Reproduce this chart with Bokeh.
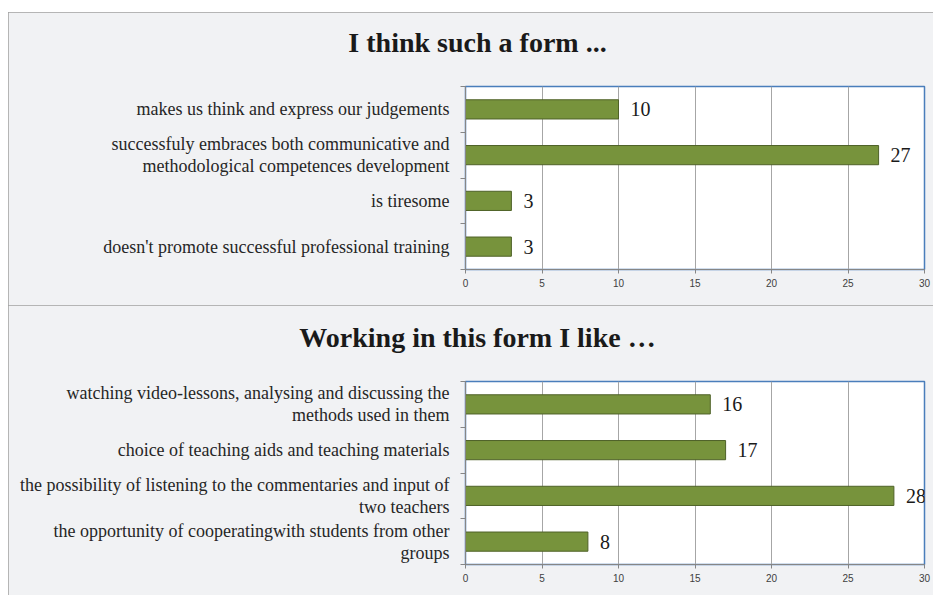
from bokeh.plotting import figure
from bokeh.models import FixedTicker, Label, Spacer, Range1d, ColumnDataSource
from bokeh.layouts import column, row
from bokeh.core.properties import value
from bokeh.embed import file_html
from bokeh.resources import INLINE

title1 = "I think such a form ..."
cats1 = ["makes us think and express our judgements",
         "successfuly embraces both communicative and\nmethodological competences development",
         "is tiresome",
         "doesn't promote successful professional training"]
vals1 = [10, 27, 3, 3]

title2 = "Working in this form I like \u2026"
cats2 = ["watching video-lessons, analysing and discussing the\nmethods used in them",
         "choice of teaching aids and teaching materials",
         "the possibility of listening to the commentaries and input of\ntwo teachers",
         "the opportunity of cooperatingwith students from other\ngroups"]
vals2 = [16, 17, 28, 8]

x_ticks = [0, 5, 10, 15, 20, 25, 30]
x_max = 30

SERIF = "Liberation Serif"
PANEL_BG = "#F1F2F4"


def make_panel(title, cats, vals, height, top, bottom):
    n = len(cats)
    pos = [n - i - 0.5 for i in range(n)]
    src = ColumnDataSource(dict(y=pos, v=vals, t=[str(v) for v in vals]))
    p = figure(width=925, height=height, output_backend="svg", toolbar_location=None,
               x_range=Range1d(0, x_max), y_range=Range1d(0, n),
               min_border_left=457, min_border_right=9,
               min_border_top=top, min_border_bottom=bottom)
    lab = Label(x=12, y=44, x_units="screen", y_units="screen", text=title,
                text_align="center", text_baseline="middle", text_font=SERIF,
                text_font_size="28px", text_font_style="bold", text_color="#1a1a1a")
    p.add_layout(lab, "above")
    p.background_fill_color = "white"
    p.border_fill_color = PANEL_BG
    p.outline_line_color = "#4A7EBB"
    p.outline_line_width = 1.5
    p.styles = {"outline": "1px solid #A0A0A0", "outline-offset": "-1px"}

    p.hbar(y="y", right="v", left=0, height=0.42, source=src,
           fill_color="#77933C", line_color="#4F6228", line_width=1)
    p.text(x="v", y="y", text="t", source=src, x_offset=12,
           text_align="left", text_baseline="middle",
           text_font=value(SERIF), text_font_size="20px", text_color="#1a1a1a")

    # x axis
    xa = p.xaxis[0]
    xa.ticker = FixedTicker(ticks=x_ticks)
    xa.axis_line_color = "#868686"
    xa.major_tick_line_color = "#868686"
    xa.major_tick_out = 4
    xa.major_tick_in = 0
    xa.minor_tick_line_color = None
    xa.major_label_text_font = "Liberation Sans"
    xa.major_label_text_font_size = "10px"
    xa.major_label_text_color = "#404040"
    xa.major_label_standoff = 5

    # y axis
    ya = p.yaxis[0]
    ya.ticker = FixedTicker(ticks=pos, minor_ticks=list(range(n + 1)))
    ya.major_label_overrides = {pos[i]: cats[i] for i in range(n)}
    ya.axis_line_color = "#868686"
    ya.major_tick_line_color = None
    ya.major_tick_out = 0
    ya.major_tick_in = 0
    ya.minor_tick_line_color = "#868686"
    ya.minor_tick_out = 5
    ya.minor_tick_in = 0
    ya.major_label_text_font = SERIF
    ya.major_label_text_font_size = "18px"
    ya.major_label_text_color = "#262626"
    ya.major_label_standoff = 11
    ya.major_label_text_line_height = 1.1

    p.xgrid.grid_line_color = "#A6A6A6"
    p.xgrid.grid_line_width = 1
    p.ygrid.grid_line_color = None
    return p


p1 = make_panel(title1, cats1, vals1, 293, 74, 36)
p2 = make_panel(title2, cats2, vals2, 290, 76, 31)

layout = row(Spacer(width=8, height=595),
             column(Spacer(width=925, height=12), p1, p2, spacing=0), spacing=0)
open("out.html", "w").write(file_html(layout, INLINE))
